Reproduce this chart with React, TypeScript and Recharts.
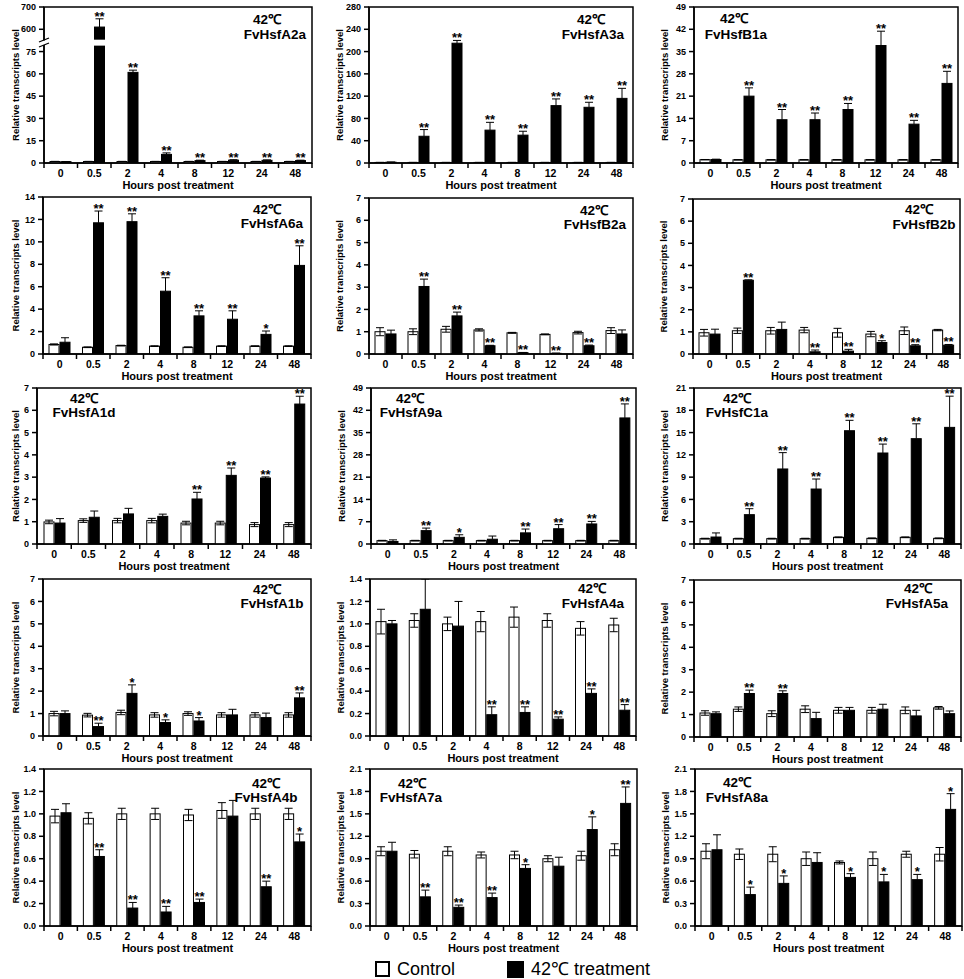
import React from 'react';
import { BarChart, Bar, XAxis, YAxis, LabelList, ReferenceArea } from 'recharts';

const hours = ['0', '0.5', '2', '4', '8', '12', '24', '48'];

// relative transcript levels, mean and error per time point
const a2aCtrl = [1, 1, 1, 1, 1, 1, 1, 1];
const a2aCtrlErr = [0.1, 0.1, 0.1, 0.1, 0.1, 0.1, 0.1, 0.1];
const a2aHeat = [0.9, 610, 61, 5.8, 1.6, 1.9, 1.8, 1.6];
const a2aHeatErr = [0.1, 37, 1.5, 1.0, 0.3, 0.3, 0.3, 0.3];
const a2aSig = ['', '**', '**', '**', '**', '**', '**', '**'];

const a3aCtrl = [1, 1, 1, 1, 1, 1, 1, 1];
const a3aCtrlErr = [0.1, 0.1, 0.1, 0.1, 0.1, 0.1, 0.1, 0.1];
const a3aHeat = [1.5, 48, 215, 59, 50, 103, 100, 116];
const a3aHeatErr = [0.3, 12, 5, 14, 7, 12, 9, 18];
const a3aSig = ['', '**', '**', '**', '**', '**', '**', '**'];

const b1aCtrl = [1.05, 1, 1, 1, 1, 1, 1, 1];
const b1aCtrlErr = [0.05, 0.05, 0.05, 0.05, 0.05, 0.05, 0.05, 0.05];
const b1aHeat = [1.1, 21, 13.6, 13.6, 16.8, 36.9, 12.2, 25];
const b1aHeatErr = [0.1, 2.6, 3.2, 2.1, 1.9, 4.5, 1.2, 3.8];
const b1aSig = ['', '**', '**', '**', '**', '**', '**', '**'];

const a6aCtrl = [0.85, 0.6, 0.75, 0.7, 0.6, 0.7, 0.7, 0.7];
const a6aCtrlErr = [0.05, 0.03, 0.03, 0.03, 0.03, 0.03, 0.03, 0.03];
const a6aHeat = [1.05, 11.7, 11.8, 5.6, 3.4, 3.1, 1.75, 7.9];
const a6aHeatErr = [0.4, 1.05, 0.7, 1.2, 0.45, 0.75, 0.3, 1.75];
const a6aSig = ['', '**', '**', '**', '**', '**', '*', '**'];

const b2aCtrl = [1.0, 1.0, 1.11, 1.08, 0.95, 0.88, 0.96, 1.05];
const b2aCtrlErr = [0.18, 0.13, 0.13, 0.05, 0.02, 0.02, 0.06, 0.13];
const b2aHeat = [0.9, 3.03, 1.71, 0.37, 0.06, 0.03, 0.37, 0.9];
const b2aHeatErr = [0.17, 0.33, 0.17, 0.02, 0.01, 0.01, 0.03, 0.18];
const b2aSig = ['', '**', '**', '**', '**', '**', '**', ''];

const b2bCtrl = [0.96, 1.05, 1.05, 1.08, 0.96, 0.9, 1.05, 1.08];
const b2bCtrlErr = [0.15, 0.12, 0.15, 0.12, 0.2, 0.12, 0.17, 0.03];
const b2bHeat = [0.9, 3.33, 1.11, 0.1, 0.13, 0.52, 0.37, 0.4];
const b2bHeatErr = [0.22, 0.02, 0.33, 0.08, 0.08, 0.08, 0.05, 0.03];
const b2bSig = ['', '**', '', '**', '**', '*', '**', '**'];

const a1dCtrl = [0.99, 1.05, 1.05, 1.05, 0.94, 0.94, 0.87, 0.87];
const a1dCtrlErr = [0.08, 0.08, 0.1, 0.1, 0.08, 0.08, 0.09, 0.09];
const a1dHeat = [0.94, 1.2, 1.35, 1.24, 2.02, 3.08, 2.96, 6.28];
const a1dHeatErr = [0.2, 0.28, 0.25, 0.1, 0.3, 0.33, 0.05, 0.35];
const a1dSig = ['', '', '', '', '**', '**', '**', '**'];

const a9aCtrl = [1.05, 1.05, 1.05, 1.05, 1.05, 1.05, 1.05, 1.05];
const a9aCtrlErr = [0.1, 0.1, 0.1, 0.1, 0.1, 0.1, 0.1, 0.1];
const a9aHeat = [0.8, 4.2, 2.1, 1.5, 3.5, 4.8, 6.3, 39.6];
const a9aHeatErr = [0.5, 0.8, 0.8, 1.0, 1.2, 1.3, 0.8, 4.4];
const a9aSig = ['', '**', '*', '', '**', '**', '**', '**'];

const c1aCtrl = [0.72, 0.72, 0.72, 0.72, 0.9, 0.76, 0.9, 0.76];
const c1aCtrlErr = [0.05, 0.05, 0.05, 0.05, 0.05, 0.05, 0.05, 0.05];
const c1aHeat = [0.94, 3.95, 10.1, 7.4, 15.25, 12.25, 14.18, 15.7];
const c1aHeatErr = [0.55, 0.8, 2.2, 1.35, 1.4, 1.2, 2.0, 4.2];
const c1aSig = ['', '**', '**', '**', '**', '**', '**', '**'];

const a1bCtrl = [1.0, 0.93, 1.05, 0.94, 1.0, 0.94, 0.94, 0.94];
const a1bCtrlErr = [0.1, 0.08, 0.1, 0.1, 0.08, 0.1, 0.1, 0.1];
const a1bHeat = [1.0, 0.42, 1.9, 0.6, 0.67, 0.94, 0.82, 1.7];
const a1bHeatErr = [0.12, 0.15, 0.38, 0.12, 0.15, 0.25, 0.2, 0.22];
const a1bSig = ['', '**', '*', '*', '*', '', '', '**'];

const a4aCtrl = [1.02, 1.03, 1.0, 1.02, 1.06, 1.03, 0.96, 0.99];
const a4aCtrlErr = [0.11, 0.06, 0.06, 0.09, 0.09, 0.06, 0.06, 0.06];
const a4aHeat = [1.0, 1.13, 0.98, 0.19, 0.21, 0.15, 0.38, 0.23];
const a4aHeatErr = [0.03, 0.27, 0.22, 0.07, 0.05, 0.02, 0.04, 0.05];
const a4aSig = ['', '', '', '**', '**', '**', '**', '**'];

const a5aCtrl = [1.07, 1.24, 1.04, 1.24, 1.19, 1.19, 1.19, 1.3];
const a5aCtrlErr = [0.1, 0.1, 0.13, 0.15, 0.13, 0.13, 0.15, 0.06];
const a5aHeat = [1.04, 1.94, 1.94, 0.82, 1.19, 1.24, 0.94, 1.04];
const a5aHeatErr = [0.08, 0.15, 0.12, 0.28, 0.13, 0.22, 0.25, 0.12];
const a5aSig = ['', '**', '**', '', '', '', '', ''];

const a4bCtrl = [0.98, 0.96, 1.0, 1.0, 0.99, 1.03, 1.0, 1.0];
const a4bCtrlErr = [0.06, 0.05, 0.05, 0.05, 0.05, 0.07, 0.05, 0.05];
const a4bHeat = [1.01, 0.62, 0.16, 0.125, 0.21, 0.98, 0.35, 0.75];
const a4bHeatErr = [0.08, 0.06, 0.05, 0.05, 0.03, 0.14, 0.05, 0.07];
const a4bSig = ['', '**', '**', '**', '**', '', '**', '*'];

const a7aCtrl = [1.0, 0.96, 1.0, 0.95, 0.95, 0.9, 0.94, 1.02];
const a7aCtrlErr = [0.06, 0.05, 0.06, 0.04, 0.05, 0.04, 0.06, 0.08];
const a7aHeat = [1.0, 0.39, 0.25, 0.38, 0.77, 0.8, 1.29, 1.64];
const a7aHeatErr = [0.12, 0.09, 0.03, 0.06, 0.05, 0.12, 0.17, 0.22];
const a7aSig = ['', '**', '**', '**', '*', '', '*', '**'];

const a8aCtrl = [1.0, 0.96, 0.96, 0.9, 0.85, 0.9, 0.96, 0.96];
const a8aCtrlErr = [0.1, 0.07, 0.1, 0.09, 0.02, 0.09, 0.04, 0.09];
const a8aHeat = [1.02, 0.42, 0.57, 0.85, 0.65, 0.59, 0.62, 1.56];
const a8aHeatErr = [0.2, 0.1, 0.1, 0.13, 0.05, 0.1, 0.07, 0.21];
const a8aSig = ['', '*', '*', '', '*', '*', '*', '*'];

// y axis ticks
const ticksA2a = [0, 15, 30, 45, 60, 75, 600, 700];
const ticks280 = [0, 40, 80, 120, 160, 200, 240, 280];
const ticks49 = [0, 7, 14, 21, 28, 35, 42, 49];
const ticks14 = [0, 2, 4, 6, 8, 10, 12, 14];
const ticks7 = [0, 1, 2, 3, 4, 5, 6, 7];
const ticks21 = [0, 3, 6, 9, 12, 15, 18, 21];
const ticks1p4 = [0, 0.2, 0.4, 0.6, 0.8, 1.0, 1.2, 1.4];
const ticks2p1 = [0, 0.3, 0.6, 0.9, 1.2, 1.5, 1.8, 2.1];

// broken axis of FvHsfA2a: 0-80 kept as is, 600-700 squeezed on top
const squeeze = (v: number) => (v <= 80 ? v : 90 + (v - 600) * 0.15);
const BREAK_LO = 79;
const BREAK_HI = 83;

const genes = [
  { name: 'FvHsfA2a', ctrl: a2aCtrl, ctrlErr: a2aCtrlErr, heat: a2aHeat, heatErr: a2aHeatErr, sig: a2aSig, ticks: ticksA2a, digits: 0, broken: true },
  { name: 'FvHsfA3a', ctrl: a3aCtrl, ctrlErr: a3aCtrlErr, heat: a3aHeat, heatErr: a3aHeatErr, sig: a3aSig, ticks: ticks280, digits: 0 },
  { name: 'FvHsfB1a', ctrl: b1aCtrl, ctrlErr: b1aCtrlErr, heat: b1aHeat, heatErr: b1aHeatErr, sig: b1aSig, ticks: ticks49, digits: 0 },
  { name: 'FvHsfA6a', ctrl: a6aCtrl, ctrlErr: a6aCtrlErr, heat: a6aHeat, heatErr: a6aHeatErr, sig: a6aSig, ticks: ticks14, digits: 0 },
  { name: 'FvHsfB2a', ctrl: b2aCtrl, ctrlErr: b2aCtrlErr, heat: b2aHeat, heatErr: b2aHeatErr, sig: b2aSig, ticks: ticks7, digits: 0 },
  { name: 'FvHsfB2b', ctrl: b2bCtrl, ctrlErr: b2bCtrlErr, heat: b2bHeat, heatErr: b2bHeatErr, sig: b2bSig, ticks: ticks7, digits: 0 },
  { name: 'FvHsfA1d', ctrl: a1dCtrl, ctrlErr: a1dCtrlErr, heat: a1dHeat, heatErr: a1dHeatErr, sig: a1dSig, ticks: ticks7, digits: 0 },
  { name: 'FvHsfA9a', ctrl: a9aCtrl, ctrlErr: a9aCtrlErr, heat: a9aHeat, heatErr: a9aHeatErr, sig: a9aSig, ticks: ticks49, digits: 0 },
  { name: 'FvHsfC1a', ctrl: c1aCtrl, ctrlErr: c1aCtrlErr, heat: c1aHeat, heatErr: c1aHeatErr, sig: c1aSig, ticks: ticks21, digits: 0 },
  { name: 'FvHsfA1b', ctrl: a1bCtrl, ctrlErr: a1bCtrlErr, heat: a1bHeat, heatErr: a1bHeatErr, sig: a1bSig, ticks: ticks7, digits: 0 },
  { name: 'FvHsfA4a', ctrl: a4aCtrl, ctrlErr: a4aCtrlErr, heat: a4aHeat, heatErr: a4aHeatErr, sig: a4aSig, ticks: ticks1p4, digits: 1 },
  { name: 'FvHsfA5a', ctrl: a5aCtrl, ctrlErr: a5aCtrlErr, heat: a5aHeat, heatErr: a5aHeatErr, sig: a5aSig, ticks: ticks7, digits: 0 },
  { name: 'FvHsfA4b', ctrl: a4bCtrl, ctrlErr: a4bCtrlErr, heat: a4bHeat, heatErr: a4bHeatErr, sig: a4bSig, ticks: ticks1p4, digits: 1 },
  { name: 'FvHsfA7a', ctrl: a7aCtrl, ctrlErr: a7aCtrlErr, heat: a7aHeat, heatErr: a7aHeatErr, sig: a7aSig, ticks: ticks2p1, digits: 1 },
  { name: 'FvHsfA8a', ctrl: a8aCtrl, ctrlErr: a8aCtrlErr, heat: a8aHeat, heatErr: a8aHeatErr, sig: a8aSig, ticks: ticks2p1, digits: 1 },
];

// page layout: plot box [left, top, right, bottom], centre of "42℃" and of the gene name
const layout = [
  { box: [44, 7, 312, 163], deg: [267, 19], gene: [275, 34] },
  { box: [369, 7, 633, 163], deg: [591, 19], gene: [593, 34] },
  { box: [694, 7, 958, 163], deg: [734, 18], gene: [736, 34] },
  { box: [43, 197, 311, 354], deg: [267, 209], gene: [272, 223] },
  { box: [369, 198, 633, 354], deg: [594, 210], gene: [595, 224] },
  { box: [693, 199, 960, 354], deg: [919, 209], gene: [924, 224] },
  { box: [37, 388, 311, 544], deg: [84, 398], gene: [84, 412] },
  { box: [371, 388, 636, 544], deg: [410, 398], gene: [411, 412] },
  { box: [694, 388, 961, 544], deg: [737, 398], gene: [737, 412] },
  { box: [43, 579, 311, 736], deg: [267, 589], gene: [272, 603] },
  { box: [370, 579, 636, 736], deg: [592, 588], gene: [593, 603] },
  { box: [694, 580, 961, 737], deg: [918, 588], gene: [917, 603] },
  { box: [44, 769, 311, 926], deg: [266, 783], gene: [266, 797] },
  { box: [370, 769, 637, 926], deg: [412, 783], gene: [411, 797] },
  { box: [695, 769, 962, 926], deg: [737, 782], gene: [737, 797] },
];

const AXIS_W = 44;
const M_TOP = 8;
const M_RIGHT = 6;
const X_H = 30;
const CAP = 4;

const HourTick = (props: any) => {
  const { x, y, payload, index, band } = props;
  return (
    <g>
      <line x1={x - band / 2} y1={y} x2={x - band / 2} y2={y + 5} stroke="#000" strokeWidth={1.5} />
      {index === hours.length - 1 && (
        <line x1={x + band / 2} y1={y} x2={x + band / 2} y2={y + 5} stroke="#000" strokeWidth={1.5} />
      )}
      <text x={x} y={y + 14} textAnchor="middle" fontSize={10.5} fontWeight="bold" fill="#000">
        {payload.value}
      </text>
    </g>
  );
};

// bar with its error bar; units per pixel come from the bar the library laid out
const ErrBar = (props: any) => {
  const { x, y, width, height, payload, valueKey, errKey, fill, full, broken } = props;
  const v = payload[valueKey];
  const e = payload[errKey];
  const ppu = v > 0 ? height / v : 0;
  const cx = x + width / 2;
  const top = y - e * ppu;
  const bottom = y + height;
  const low = full ? Math.min(y + e * ppu, bottom) : y;
  return (
    <g>
      <rect x={x} y={y} width={width} height={height} fill={fill} stroke="#000" strokeWidth={1} />
      {broken && v > BREAK_HI && (
        <rect x={x - 1} y={bottom - BREAK_HI * ppu} width={width + 2} height={(BREAK_HI - BREAK_LO) * ppu} fill="#fff" />
      )}
      <line x1={cx} y1={top} x2={cx} y2={low} stroke="#000" strokeWidth={1} />
      <line x1={cx - CAP} y1={top} x2={cx + CAP} y2={top} stroke="#000" strokeWidth={1} />
      {full && <line x1={cx - CAP} y1={low} x2={cx + CAP} y2={low} stroke="#000" strokeWidth={1} />}
    </g>
  );
};

const Panel = ({ g, l }: { g: any; l: any }) => {
  const [x0, y0, x1, y1] = l.box;
  const plotW = x1 - x0;
  const plotH = y1 - y0;
  const band = plotW / hours.length;
  const f = g.broken ? squeeze : (v: number) => v;
  const rows = hours.map((h, i) => ({
    hour: h,
    ctrl: f(g.ctrl[i]),
    ctrlErr: f(g.ctrl[i] + g.ctrlErr[i]) - f(g.ctrl[i]),
    heat: f(g.heat[i]),
    heatErr: f(g.heat[i] + g.heatErr[i]) - f(g.heat[i]),
    sig: g.sig[i],
  }));
  const tickPos = g.ticks.map((t: number) => f(t));
  const yMax = tickPos[tickPos.length - 1];
  const labelOffset = Math.max(x0 - 36, 9) - (x0 - AXIS_W);

  const renderStars = (p: any) => {
    const row = rows[p.index];
    if (!row || !row.sig) return null;
    const ppu = row.heat > 0 ? p.height / row.heat : 0;
    const top = p.y - row.heatErr * ppu;
    return (
      <text x={p.x + p.width / 2} y={top + 2} textAnchor="middle" fontSize={13} fontWeight="bold" fill="#000">
        {row.sig}
      </text>
    );
  };

  return (
    <div style={{ position: 'absolute', left: x0 - AXIS_W, top: y0 - M_TOP }}>
      <BarChart
        width={plotW + AXIS_W + M_RIGHT}
        height={plotH + M_TOP + X_H}
        data={rows}
        margin={{ top: M_TOP, right: M_RIGHT, left: 0, bottom: 0 }}
        barSize={10}
        barGap={1}
      >
        <XAxis
          dataKey="hour"
          interval={0}
          height={X_H}
          tickLine={false}
          tickSize={0}
          tickMargin={0}
          axisLine={{ stroke: '#000', strokeWidth: 1.5 }}
          tick={(p: any) => <HourTick {...p} band={band} />}
          label={{
            value: 'Hours post treatment',
            position: 'insideBottom',
            offset: 4,
            fill: '#000',
            style: { fontSize: 11, fontWeight: 'bold', fill: '#000' },
          }}
        />
        <YAxis
          type="number"
          domain={[0, yMax]}
          ticks={tickPos}
          interval={0}
          allowDataOverflow
          width={AXIS_W}
          tickSize={5}
          tickMargin={3}
          axisLine={{ stroke: '#000', strokeWidth: 1.5 }}
          tickLine={{ stroke: '#000', strokeWidth: 1.5 }}
          tick={{ fontSize: 9, fontWeight: 'bold', fill: '#000' }}
          tickFormatter={(v: number, i: number) =>
            g.broken ? String(g.ticks[i]) : v.toFixed(g.digits)
          }
          label={{
            value: 'Relative transcripts level',
            angle: -90,
            position: 'insideLeft',
            offset: labelOffset,
            dx: 7,
            fill: '#000',
            style: { textAnchor: 'middle', fontSize: 9.5, fontWeight: 'bold', fill: '#000' },
          }}
        />
        <ReferenceArea y1={0} y2={yMax} fill="none" stroke="#000" strokeWidth={1.5} ifOverflow="visible" />
        <Bar
          dataKey="ctrl"
          fill="#fff"
          isAnimationActive={false}
          shape={(p: any) => <ErrBar {...p} valueKey="ctrl" errKey="ctrlErr" fill="#fff" full />}
        />
        <Bar
          dataKey="heat"
          fill="#000"
          isAnimationActive={false}
          shape={(p: any) => <ErrBar {...p} valueKey="heat" errKey="heatErr" fill="#000" broken={g.broken} />}
        >
          <LabelList dataKey="sig" content={renderStars} />
        </Bar>
      </BarChart>
    </div>
  );
};

const noteStyle: React.CSSProperties = {
  position: 'absolute',
  transform: 'translateX(-50%)',
  fontSize: 13.5,
  fontWeight: 'bold',
  lineHeight: '13px',
  whiteSpace: 'nowrap',
  color: '#000',
};

export default function App() {
  return (
    <div
      style={{
        position: 'absolute',
        left: 0,
        top: 0,
        width: 964,
        height: 979,
        overflow: 'hidden',
        background: '#fff',
        fontFamily: "'Liberation Sans', Arial, sans-serif",
      }}
    >
      {genes.map((g, i) => (
        <Panel key={g.name} g={g} l={layout[i]} />
      ))}
      {genes.map((g, i) => (
        <React.Fragment key={g.name + '-note'}>
          <div style={{ ...noteStyle, left: layout[i].deg[0], top: layout[i].deg[1] - 6.5 }}>42℃</div>
          <div style={{ ...noteStyle, left: layout[i].gene[0], top: layout[i].gene[1] - 6.5 }}>{g.name}</div>
        </React.Fragment>
      ))}
      {/* axis break marks of the first panel */}
      <svg style={{ position: 'absolute', left: 36, top: 34 }} width={16} height={16}>
        <rect x={5} y={6.5} width={6} height={4.5} fill="#fff" />
        <line x1={3} y1={8} x2={13} y2={4} stroke="#000" strokeWidth={1.3} />
        <line x1={3} y1={13} x2={13} y2={9} stroke="#000" strokeWidth={1.3} />
      </svg>
      {/* legend */}
      <div
        style={{
          position: 'absolute',
          left: 375,
          top: 961,
          width: 15,
          height: 16,
          boxSizing: 'border-box',
          border: '2px solid #000',
          background: '#fff',
        }}
      />
      <div style={{ position: 'absolute', left: 397, top: 958, fontSize: 18, lineHeight: '22px' }}>Control</div>
      <div style={{ position: 'absolute', left: 507, top: 961, width: 17, height: 17, background: '#000' }} />
      <div style={{ position: 'absolute', left: 531, top: 958, fontSize: 18, lineHeight: '22px' }}>42℃ treatment</div>
    </div>
  );
}
